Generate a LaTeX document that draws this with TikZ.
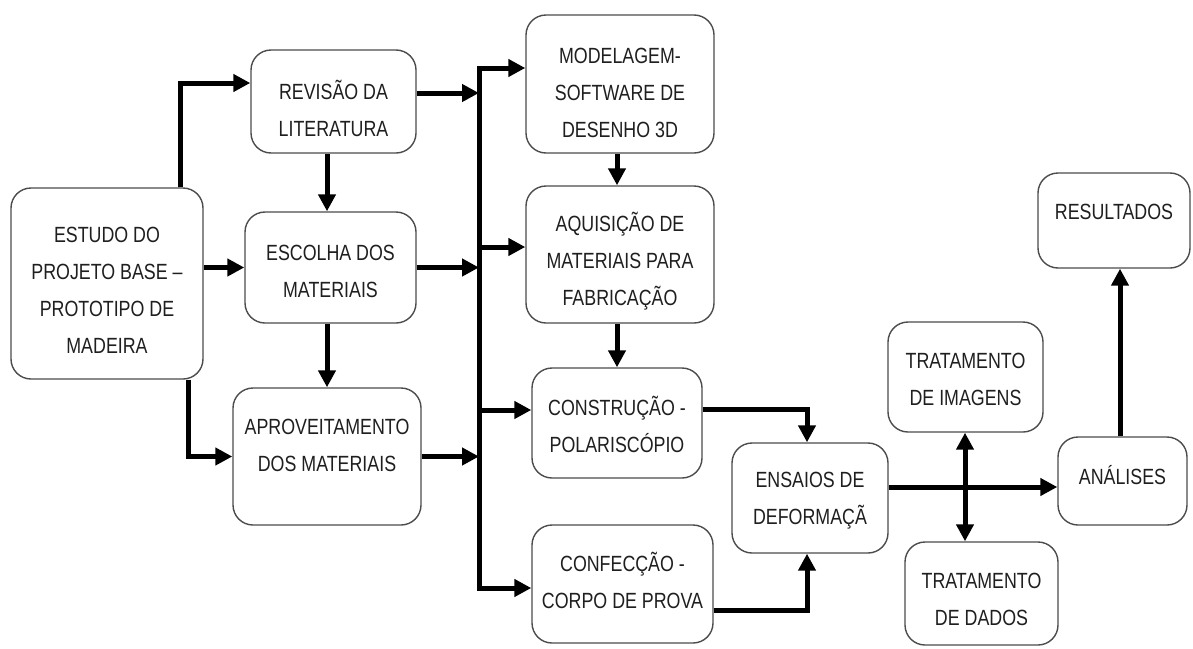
\documentclass[tikz,border=0pt]{standalone}
\usepackage{fontspec}
\setmainfont{Liberation Sans}[FakeStretch=0.81]
\usetikzlibrary{arrows.meta,calc,fit}
\newcommand\bx[5]{\node[box,fit={(#2,#3) (#4,#5)}] (#1) {};}
\begin{document}
\begin{tikzpicture}[x=1pt,y=-1pt,
 box/.style={draw=black!70,line width=1.4pt,rounded corners=20pt,fill=white,inner sep=0pt},
 txt/.style={align=center,font=\fontsize{22}{37}\selectfont,text=black!88,inner sep=0pt},
 conn/.style={line width=5pt,line cap=rect},
 arr/.style={line width=5pt,-{Triangle[length=17pt,width=17pt]}},
 darr/.style={line width=5pt,{Triangle[length=17pt,width=17pt]}-{Triangle[length=17pt,width=17pt]}}]
\useasboundingbox (0,0) rectangle (1193,648);
% boxes
\bx{estudo}{11}{188}{203}{379}
\bx{revisao}{251}{50}{416}{153}
\bx{escolha}{245}{212}{416}{323}
\bx{aprov}{233}{388}{421}{525}
\bx{model}{526}{15}{714}{153}
\bx{aquis}{526}{186}{714}{323}
\bx{constr}{532}{368}{702}{478}
\bx{confec}{532}{525}{713}{643}
\bx{ensaios}{732}{443}{888}{553}
\bx{tratimg}{888}{322}{1043}{432}
\bx{tratdad}{905}{542}{1058}{645}
\bx{analises}{1058}{437}{1187}{525}
\bx{result}{1038}{173}{1190}{268}
% texts
\node[txt] (t-estudo) at (107,290) {ESTUDO DO\\PROJETO BASE –\\PROTOTIPO DE\\MADEIRA};
\node[txt] (t-revisao) at (333.5,108.5) {REVISÃO DA\\LITERATURA};
\node[txt] (t-escolha) at (330.5,271) {ESCOLHA DOS\\MATERIAIS};
\node[txt] (t-aprov) at (327,445) {APROVEITAMENTO\\DOS MATERIAIS};
\node[txt] (t-model) at (620,93) {MODELAGEM-\\SOFTWARE DE\\DESENHO 3D};
\node[txt] (t-aquis) at (620,261) {AQUISIÇÃO DE\\MATERIAIS PARA\\FABRICAÇÃO};
\node[txt] (t-constr) at (617,424) {CONSTRUÇÃO -\\POLARISCÓPIO};
\node[txt] (t-confec) at (622.5,580) {CONFECÇÃO -\\CORPO DE PROVA};
\node[txt] (t-ensaios) at (810,501) {ENSAIOS DE\\DEFORMAÇÃ};
\node[txt] (t-tratimg) at (965.5,379) {TRATAMENTO\\DE IMAGENS};
\node[txt] (t-tratdad) at (981.5,599) {TRATAMENTO\\DE DADOS};
\node[txt] (t-analises) at (1122.5,475) {ANÁLISES};
\node[txt] (t-result) at (1114,212) {RESULTADOS};
% helper columns
\coordinate (colA) at (327,0);
\coordinate (bus) at (479,0);
\coordinate (colB) at (617,0);
\coordinate (colC) at (807,0);
\coordinate (colD) at (965,0);
\coordinate (colE) at (1120,0);
\coordinate (e-up) at ([xshift=73pt]estudo.north);
\coordinate (e-down) at ([xshift=81pt]estudo.south);
\coordinate (r-in) at ([yshift=18.5pt]revisao.west);
\coordinate (r-out) at ([yshift=8.5pt]revisao.east);
\coordinate (m-in) at ([yshift=16pt]model.west);
\coordinate (a-in) at ([yshift=7.5pt]aquis.west);
\coordinate (k-in) at ([yshift=13pt]constr.west);
\coordinate (c-in) at ([yshift=-4pt]confec.west);
\coordinate (k-out) at ([yshift=14pt]constr.east);
\coordinate (c-out) at ([yshift=-26pt]confec.east);
\coordinate (s-out) at ([yshift=11pt]ensaios.east);
% connectors
\draw[arr] (e-up) |- (r-in);
\draw[arr] (escolha.west -| estudo.east) -- (escolha.west);
\draw[arr] (e-down) |- (aprov.west);
\draw[arr] (revisao.south -| colA) -- (escolha.north -| colA);
\draw[arr] (escolha.south -| colA) -- (aprov.north -| colA);
\draw[arr] (r-out) -- (r-out -| bus);
\draw[arr] (escolha.east) -- (escolha.east -| bus);
\draw[arr] (aprov.east) -- (aprov.east -| bus);
\draw[conn] (m-in -| bus) -- (c-in -| bus);
\draw[arr] (m-in -| bus) -- (m-in);
\draw[arr] (a-in -| bus) -- (a-in);
\draw[arr] (k-in -| bus) -- (k-in);
\draw[arr] (c-in -| bus) -- (c-in);
\draw[arr] (model.south -| colB) -- (aquis.north -| colB);
\draw[arr] (aquis.south -| colB) -- (constr.north -| colB);
\draw[arr] (k-out) -| (ensaios.north -| colC);
\draw[arr] (c-out) -| (ensaios.south -| colC);
\draw[arr] (s-out) -- (s-out -| analises.west);
\draw[darr] (tratimg.south -| colD) -- (tratdad.north -| colD);
\draw[arr] (analises.north -| colE) -- (result.south -| colE);
\end{tikzpicture}
\end{document}
